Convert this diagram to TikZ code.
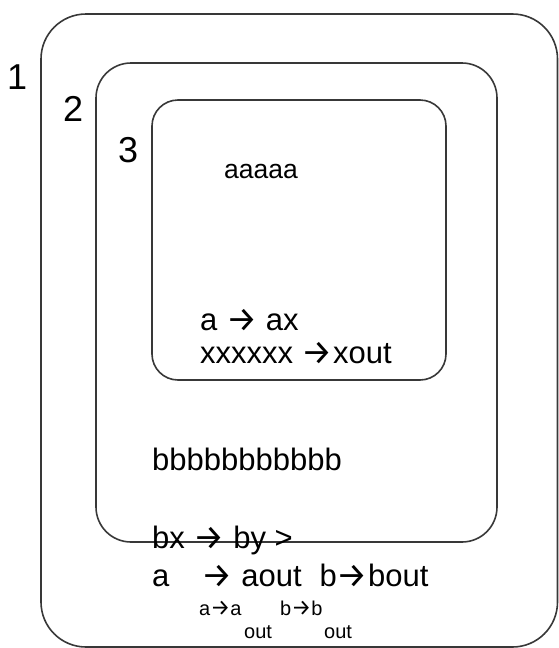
\documentclass[tikz,border=0pt]{standalone}
\usepackage{fontspec}
\setmainfont{Liberation Sans}
\newfontfamily\arrowfont{Fira Sans}
% open chevron arrow glyph, slightly enlarged
\newcommand{\ra}{{\arrowfont\raisebox{-0.04em}{\scalebox{1.12}{→}}}}
\begin{document}
\begin{tikzpicture}[x=1pt,y=-1pt,
  frame/.style={draw=black!78,line width=1.6pt},
  lbl/.style={anchor=base west,inner sep=0pt,font=\fontsize{36}{40}\selectfont},
  big/.style={anchor=base west,inner sep=0pt,font=\fontsize{31}{35}\selectfont},
  mid/.style={anchor=base west,inner sep=0pt,font=\fontsize{26.5}{30}\selectfont},
  small/.style={anchor=base west,inner sep=0pt,font=\fontsize{20}{24}\selectfont}]
\useasboundingbox (0,0) rectangle (559,648);
% nested scopes
\draw[frame,rounded corners=45pt] (41,14) rectangle (557.5,647);
\draw[frame,rounded corners=35pt] (96,63) rectangle (497,542);
\draw[frame,rounded corners=26pt] (152,100) rectangle (446,380);
% scope numbers
\node[lbl] (n1) at (7,89) {1};
\node[lbl] (n2) at (63,121) {2};
\node[lbl] (n3) at (118,162) {3};
% innermost scope
\node[mid] (ta) at (224,178) {aaaaa};
\node[big] (r1) at (200,330) {a \ra{} ax};
\node[big] (r2) at (200,363) {xxxxxx \ra xout};
% middle scope
\node[big] (tb) at (152,470) {bbbbbbbbbbb};
% outer scope
\node[big] (r3) at (152,548) {bx \ra{} by >};
\node[big] (r4) at (152,586) {a\hspace{32pt}\ra{} aout\hspace{18pt}b\ra bout};
\node[small] (s1) at (199,615) {a\ra a};
\node[small] (s2) at (244,638) {out};
\node[small] (s3) at (280,615) {b\ra b};
\node[small] (s4) at (324,638) {out};
\end{tikzpicture}
\end{document}
